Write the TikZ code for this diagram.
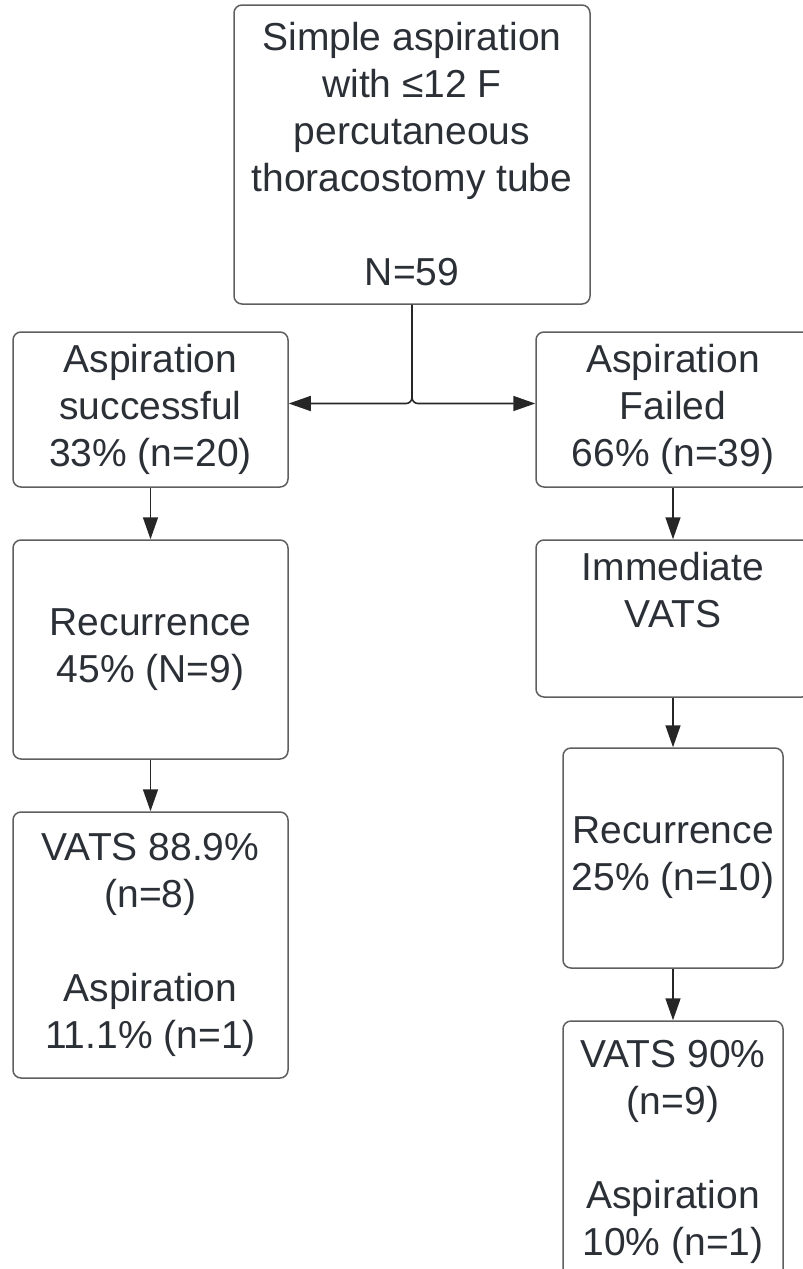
\documentclass[tikz,border=0pt]{standalone}
\usepackage{fontspec}
\setmainfont{Liberation Sans}
\usetikzlibrary{arrows.meta}
\definecolor{inkgray}{RGB}{43,47,54}
\definecolor{framegray}{RGB}{95,95,95}
\begin{document}
\begin{tikzpicture}[x=1pt,y=-1pt,>={Triangle[length=22pt,width=15pt]},
  box/.style={draw=framegray,line width=1.5pt,rounded corners=8pt,align=center,
    text=inkgray,font=\fontsize{39}{47}\selectfont,inner sep=0pt},
  link/.style={->,line width=1.6pt,draw=black!85}]
  \useasboundingbox (0,0) rectangle (803,1269);
  \clip (0,0) rectangle (803,1269);
  % start and first split
  \node[box,minimum width=356pt,minimum height=299pt] (start) at (412,154.5)
    {Simple aspiration\\with ≤12 F\\percutaneous\\thoracostomy tube\\[47pt]N=59};
  \node[box,minimum width=275pt,minimum height=155pt] (succ) at (150.5,409.5)
    {Aspiration\\successful\\33\% (n=20)};
  \node[box,minimum width=274pt,minimum height=155pt] (fail) at (673,409.5)
    {Aspiration\\Failed\\66\% (n=39)};
  % left branch
  \node[box,minimum width=275pt,minimum height=219pt] (recL) at (150.5,649.5)
    {Recurrence\\45\% (N=9)};
  \node[box,minimum width=275pt,minimum height=266pt] (outL) at (150.5,945)
    {VATS 88.9\%\\(n=8)\\[47pt]Aspiration\\11.1\% (n=1)};
  % right branch
  \node[box,minimum width=274pt,minimum height=157pt] (vats) at (673,618.5)
    {Immediate\\VATS\\[10pt]\mbox{}};
  \node[box,minimum width=220pt,minimum height=220pt] (recR) at (673,858)
    {Recurrence\\25\% (n=10)};
  \node[box,minimum width=220pt,minimum height=262pt] (outR) at (673,1152)
    {VATS 90\%\\(n=9)\\[47pt]Aspiration\\10\% (n=1)};
  \draw[link,rounded corners=6pt] (start.south) |- ([yshift=6pt]succ.east);
  \draw[link,rounded corners=6pt] (start.south) |- ([yshift=6pt]fail.west);
  \draw[link] (succ) -- (recL);
  \draw[link] (recL) -- (outL);
  \draw[link] (fail) -- (vats);
  \draw[link] (vats) -- (recR);
  \draw[link] (recR) -- (outR);
\end{tikzpicture}
\end{document}
